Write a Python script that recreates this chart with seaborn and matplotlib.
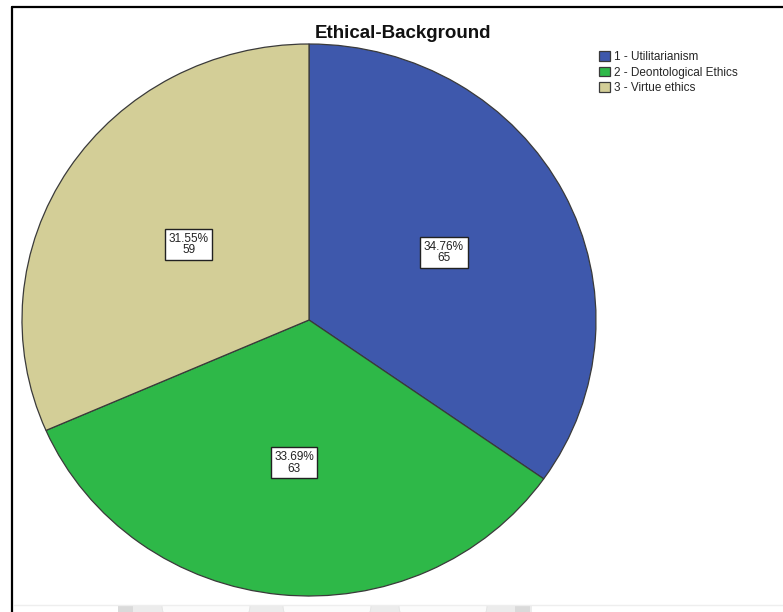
import matplotlib
matplotlib.use("Agg")
import matplotlib.pyplot as plt
from matplotlib.lines import Line2D
from matplotlib.patches import Rectangle, Ellipse
import seaborn as sns
import numpy as np

categories = ["1 - Utilitarianism", "2 - Deontological Ethics", "3 - Virtue ethics"]
counts = [65, 63, 59]
percents = ["34.76%", "33.69%", "31.55%"]
title = "Ethical-Background"

sns.set_theme(style="white")
plt.rcParams['font.family'] = ['Liberation Sans', 'DejaVu Sans']
colors = ["#3E58AC", "#2EB848", "#D3CE97"]

W, H = 783, 612
fig = plt.figure(figsize=(W / 100, H / 100), dpi=100)
fig.patch.set_facecolor("white")

# pie axes (elliptical): center (309,320), rx 287, ry 276 px
cx, cy, rx, ry = 309, 320, 287, 276
ax = fig.add_axes([(cx - rx) / W, 1 - (cy + ry) / H, 2 * rx / W, 2 * ry / H])
wedges, _ = ax.pie(counts, colors=colors, startangle=90, counterclock=False,
                   wedgeprops=dict(edgecolor="#3a3a3a", linewidth=0.9))
ax.set_aspect("auto")
ax.set_xlim(-1, 1)
ax.set_ylim(-1, 1)
ax.axis("off")

dists = [0.53, 0.52, 0.5]
for w, p, c, d in zip(wedges, percents, counts, dists):
    ang = np.deg2rad((w.theta1 + w.theta2) / 2)
    ax.text(d * np.cos(ang), d * np.sin(ang), f"{p}\n{c}", ha="center", va="center",
            fontsize=8.5, color="#222222", linespacing=0.95,
            bbox=dict(boxstyle="square,pad=0.3", facecolor="white", edgecolor="#222222", linewidth=1.0))

fig.text(403 / W, 1 - 33 / H, title, ha="center", va="center", fontsize=13.5, fontweight="bold", color="#111111")

leg = fig.legend(wedges, categories, loc="upper left", bbox_to_anchor=(599 / W, 1 - 51 / H),
                 frameon=False, fontsize=8.5, handlelength=0.9, handleheight=0.9,
                 handletextpad=0.35, labelspacing=0.3, borderaxespad=0, borderpad=0)

# faint page artefacts at the bottom
fig.add_artist(Line2D([14 / W, 1], [1 - 605 / H, 1 - 605 / H], transform=fig.transFigure,
                      color="#eeeeee", linewidth=1.0))
band = Rectangle((118 / W, 0), (532 - 118) / W, 6.5 / H, transform=fig.transFigure,
                 facecolor="#ececec", edgecolor="none")
fig.add_artist(band)
for bx in (118, 515):
    fig.add_artist(Rectangle((bx / W, 0), 15 / W, 6.5 / H, transform=fig.transFigure,
                             facecolor="#dadada", edgecolor="none"))
for ex in (206, 327, 443):
    e = Ellipse((ex / W, 6.5 / H), 88 / W, 60 / H, transform=fig.transFigure,
                facecolor="#fbfbfb", edgecolor="#e2e2e2", linewidth=0.6)
    fig.add_artist(e)
    e.set_clip_path(band)

# frame lines
fig.add_artist(Line2D([12 / W, 12 / W], [1 - 7 / H, 0], transform=fig.transFigure, color="black", linewidth=1.6))
fig.add_artist(Line2D([12 / W, 1], [1 - 7 / H, 1 - 7 / H], transform=fig.transFigure, color="black", linewidth=1.6))

fig.savefig("out.png", dpi=100)
